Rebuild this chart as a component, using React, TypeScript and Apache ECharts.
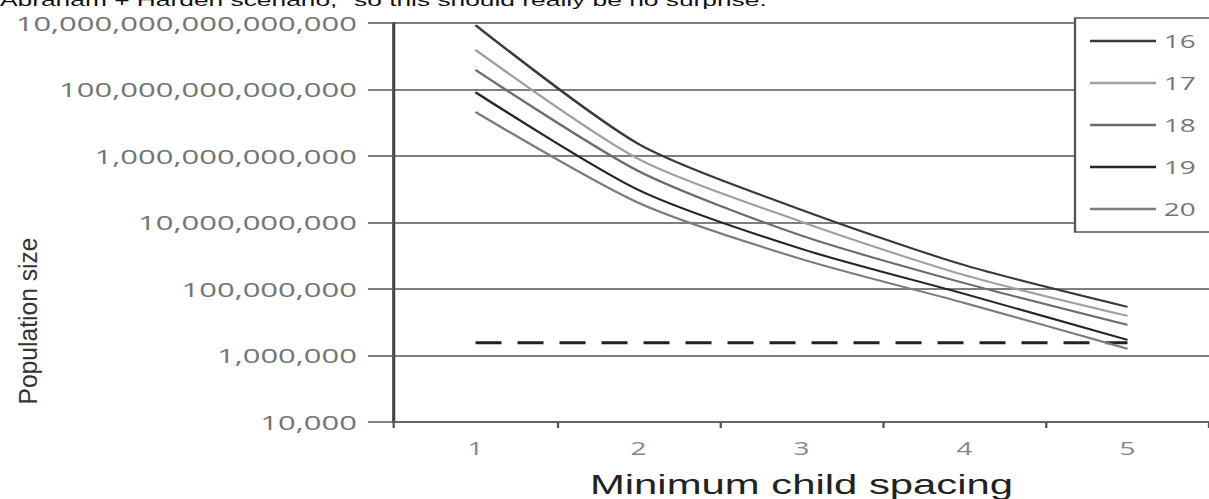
import React, { useEffect, useRef } from "react";
import * as echarts from "echarts";

// The reference picture is horizontally stretched; the chart is drawn at a
// narrower native width and stretched the same way.
const STRETCH = 1.55;
const WIDTH = 1209;
const HEIGHT = 499;
const nx = (px: number) => px / STRETCH;

const categories = ["1", "2", "3", "4", "5"];
const seriesNames = ["16", "17", "18", "19", "20"];
const s16 = [8.7e15, 2.3e12, 2.4e10, 5.2e8, 2.9e7];
const s17 = [1.55e15, 8.1e11, 1.05e10, 2.6e8, 1.55e7];
const s18 = [3.9e14, 3.5e11, 4.0e9, 1.5e8, 8.3e6];
const s19 = [8.3e13, 9.5e10, 1.6e9, 7.1e7, 2.95e6];
const s20 = [2.1e13, 3.9e10, 7.9e8, 3.8e7, 1.6e6];
const thresholdValues = [2.4e6, 2.4e6, 2.4e6, 2.4e6, 2.4e6];
const yTickValues = [1e4, 1e6, 1e8, 1e10, 1e12, 1e14, 1e16];
const yTickLabels = [
  "10,000",
  "1,000,000",
  "100,000,000",
  "10,000,000,000",
  "1,000,000,000,000",
  "100,000,000,000,000",
  "10,000,000,000,000,000",
];
const lineColors = ["#3a3a3a", "#a0a0a0", "#6c6c6c", "#262626", "#7c7c7c"];
const allSeries = [s16, s17, s18, s19, s20];

const headerText = 'Abraham + Harden scenario, "so this should really be no surprise.';
const yTitle = "Population size";
const xTitle = "Minimum child spacing";

const labelFont = "'Open Sans', 'Noto Sans', sans-serif";

function yLabel(v: number): string {
  const e = Math.round(Math.log10(v));
  const i = yTickValues.findIndex((t) => Math.round(Math.log10(t)) === e);
  return i >= 0 ? yTickLabels[i] : "";
}

export default function App() {
  const ref = useRef<HTMLDivElement>(null);
  useEffect(() => {
    const el = ref.current!;
    const chart = echarts.init(el, null, { renderer: "svg" });
    const option: any = {
      animation: false,
      backgroundColor: "#ffffff",
      grid: {
        left: nx(394),
        right: 0,
        top: 23,
        bottom: 77,
        containLabel: false,
        outerBoundsMode: "none",
      },
      legend: {
        data: seriesNames,
        orient: "vertical",
        left: nx(1075),
        top: 18,
        padding: [14, 12, 14, nx(1090) - nx(1075)],
        itemGap: 24,
        itemWidth: nx(1156) - nx(1090),
        itemHeight: 2.5,
        icon: "rect",
        backgroundColor: "#ffffff",
        borderColor: "#555555",
        borderWidth: 1.5,
        textStyle: { fontFamily: labelFont, fontSize: 18, color: "#777777" },
      },
      xAxis: {
        type: "category",
        data: categories,
        boundaryGap: true,
        axisLine: { show: true, lineStyle: { color: "#666666", width: 2 } },
        axisTick: { show: true, length: 6, lineStyle: { color: "#555555", width: 1.5 } },
        axisLabel: { fontFamily: labelFont, fontSize: 18, color: "#858585", margin: 17, interval: 0 },
        splitLine: { show: false },
        name: xTitle,
        nameLocation: "middle",
        nameGap: 49,
        nameTextStyle: { fontFamily: "'Liberation Sans', Arial, sans-serif", fontSize: 27, color: "#222222" },
      },
      yAxis: {
        type: "log",
        logBase: 10,
        min: 1e4,
        max: 1e16,
        interval: 2,
        splitNumber: 6,
        axisLine: { show: true, lineStyle: { color: "#444444", width: 2 } },
        axisTick: { show: true, inside: false, length: nx(394) - nx(368), lineStyle: { color: "#555555", width: 1.5 } },
        axisLabel: { fontFamily: labelFont, fontSize: 20, color: "#747474", margin: nx(394) - nx(357), formatter: yLabel },
        splitLine: { show: true, lineStyle: { color: "#555555", width: 1.5 } },
        minorTick: { show: false },
      },
      graphic: [
        {
          type: "text",
          x: 0,
          y: 9,
          style: {
            text: headerText,
            fill: "#111111",
            font: "17px 'Liberation Sans', Arial, sans-serif",
            align: "left",
            verticalAlign: "bottom",
          },
        },
        {
          type: "text",
          x: nx(28),
          y: 321,
          rotation: Math.PI / 2,
          scaleX: 1.45,
          style: {
            text: yTitle,
            fill: "#333333",
            font: "17px 'Liberation Sans', Arial, sans-serif",
            align: "center",
            verticalAlign: "middle",
          },
        },
      ],
      series: [
        ...allSeries.map((d, i) => ({
          name: seriesNames[i],
          type: "line",
          data: d,
          symbol: "none",
          smooth: 0.25,
          color: lineColors[i],
          lineStyle: { color: lineColors[i], width: 2 },
          z: 3,
        })),
        {
          name: "limit",
          type: "line",
          data: thresholdValues,
          symbol: "none",
          color: "#222222",
          lineStyle: { color: "#222222", width: 3, type: [nx(26), nx(16)] },
          z: 2,
        },
      ],
    };
    chart.setOption(option);
    return () => chart.dispose();
  }, []);
  return (
    <div
      ref={ref}
      style={{
        position: "fixed",
        left: 0,
        top: 0,
        width: WIDTH / STRETCH,
        height: HEIGHT,
        transform: `scaleX(${STRETCH})`,
        transformOrigin: "0 0",
        background: "#ffffff",
      }}
    />
  );
}
